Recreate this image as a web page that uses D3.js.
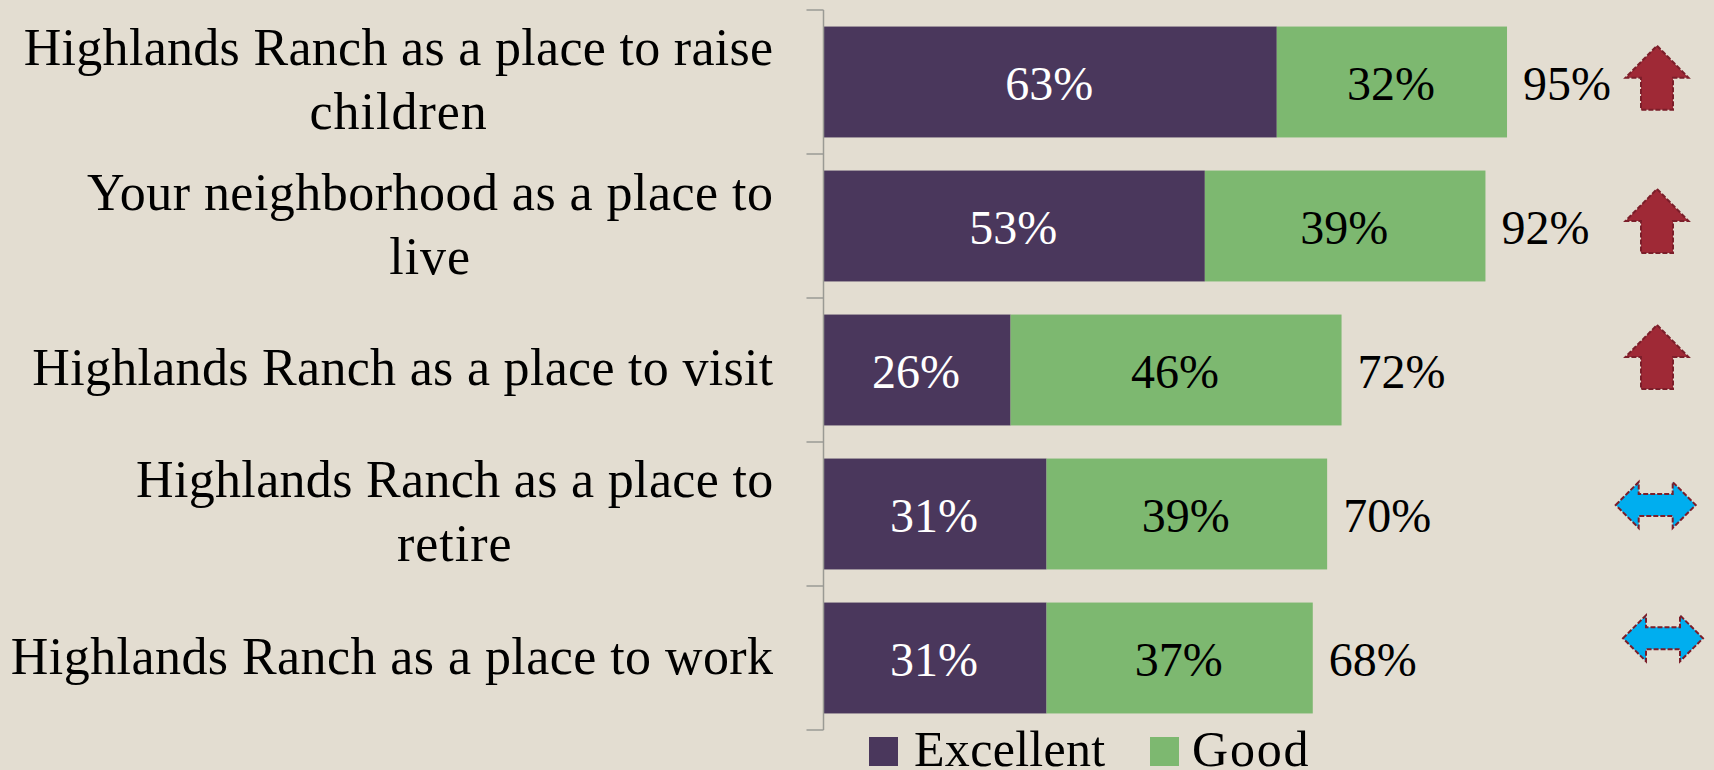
<!DOCTYPE html>
<html><head><meta charset="utf-8">
<script src="https://cdnjs.cloudflare.com/ajax/libs/d3/7.8.5/d3.min.js"></script>
<style>html,body{margin:0;padding:0;background:#e3ddd1;overflow:hidden}svg{display:block}text{font-family:"Liberation Serif",serif;font-size:48px;fill:#000}</style>
</head><body><svg id="c" width="1714" height="770"></svg>
<script>
const categories=["Highlands Ranch as a place to raise children","Your neighborhood as a place to live","Highlands Ranch as a place to visit","Highlands Ranch as a place to retire","Highlands Ranch as a place to work"];
const categoryLines=[["Highlands Ranch as a place to raise","children"],["Your neighborhood as a place to","live"],["Highlands Ranch as a place to visit"],["Highlands Ranch as a place to","retire"],["Highlands Ranch as a place to work"]];
const excellent=[63,53,26,31,31];
const good=[32,39,46,39,37];
const totals=[95,92,72,70,68];
const trends=["up","up","up","same","same"];
const seriesNames=["Excellent","Good"];
const seriesColors=["#4a375c","#7db870"];

const svg=d3.select("#c");
const x=d3.scaleLinear().domain([0,100]).range([823.5,1543]);
const y=d3.scaleBand().domain(categories).range([10,730]).paddingInner(0.23).paddingOuter(0.115);
const stack=categories.map((c,i)=>({c,i,e:excellent[i],g:good[i],t:totals[i],tr:trends[i]}));

// bars
svg.append("g").selectAll("rect").data(stack).join("rect").attr("x",x(0)).attr("y",d=>y(d.c)).attr("width",d=>x(d.e)-x(0)).attr("height",y.bandwidth()).attr("fill",seriesColors[0]);
svg.append("g").selectAll("rect").data(stack).join("rect").attr("x",d=>x(d.e)).attr("y",d=>y(d.c)).attr("width",d=>x(d.e+d.g)-x(d.e)).attr("height",y.bandwidth()).attr("fill",seriesColors[1]);

// axis with ticks at band edges
const edges=d3.range(categories.length+1).map(i=>10+i*y.step());
const ax=svg.append("g");
ax.append("line").attr("x1",x(0)).attr("x2",x(0)).attr("y1",10).attr("y2",730).attr("stroke","#9a9a94").attr("stroke-width",1.5);
ax.selectAll("line.t").data(edges).join("line").attr("class","t").attr("x1",x(0)-17).attr("x2",x(0)).attr("y1",d=>d).attr("y2",d=>d).attr("stroke","#9a9a94").attr("stroke-width",1.5);

// category labels: block right-aligned, wrapped lines centred under the first
const lab=svg.append("g");
const labelRight=773.5, labelSize=52, labelSpacing=[0.3,0.47,0.3,0.32,0.43];
stack.forEach((d,i)=>{
  const lines=categoryLines[i];
  const cy=y(d.c)+y.bandwidth()/2;
  const off=[-17.5,-16.5,15,-17.5,15.5][i];
  const first=lab.append("text").attr("x",labelRight).attr("y",cy+off).attr("text-anchor","end").style("font-size",labelSize+"px").style("letter-spacing",labelSpacing[i]+"px").text(lines[0]);
  if(lines[1]){
    const w=first.node().getComputedTextLength();
    lab.append("text").attr("x",labelRight-w/2).attr("y",cy+off+64).attr("text-anchor","middle").style("font-size",labelSize+"px").style("letter-spacing","1px").text(lines[1]);
  }
});

// value labels
const vals=svg.append("g");
const vy=d=>y(d.c)+y.bandwidth()/2+17.5;
vals.selectAll("text.e").data(stack).join("text").attr("class","e").attr("x",d=>(x(0)+x(d.e))/2-1).attr("y",vy).attr("text-anchor","middle").style("fill","#fff").text(d=>d.e+"%");
vals.selectAll("text.g").data(stack).join("text").attr("class","g").attr("x",d=>(x(d.e)+x(d.e+d.g))/2-1).attr("y",vy).attr("text-anchor","middle").text(d=>d.g+"%");
vals.selectAll("text.t").data(stack).join("text").attr("class","t").attr("x",d=>x(d.t)+16).attr("y",vy).text(d=>d.t+"%");

// trend arrows
const arrowX=[1657,1657,1657,1655.7,1663];
const arrowY=[77.7,221,357,505,638.3];
const up="M0,-32L31.5,0L16,0L16,32L-16,32L-16,0L-31.5,0Z";
const both="M-40,0L-17,-23L-17,-11L17,-11L17,-23L40,0L17,23L17,11L-17,11L-17,23Z";
svg.append("g").selectAll("path").data(stack).join("path")
 .attr("transform",(d,i)=>`translate(${arrowX[i]},${arrowY[i]})`)
 .attr("d",d=>d.tr=="up"?up:both)
 .attr("fill",d=>d.tr=="up"?"#9f2936":"#00aeef")
 .attr("stroke","#7b1e2a").attr("stroke-width",2).attr("stroke-dasharray","5,2");

// legend
const lg=svg.append("g");
const lgX=[869,1150], txX=[914,1192], lgSpacing=[0.3,1.8];
seriesNames.forEach((n,i)=>{
  lg.append("rect").attr("x",lgX[i]).attr("y",737).attr("width",29).attr("height",29).attr("fill",seriesColors[i]);
  lg.append("text").attr("x",txX[i]).attr("y",766).style("font-size","50px").style("letter-spacing",lgSpacing[i]+"px").text(n);
});
</script></body></html>
